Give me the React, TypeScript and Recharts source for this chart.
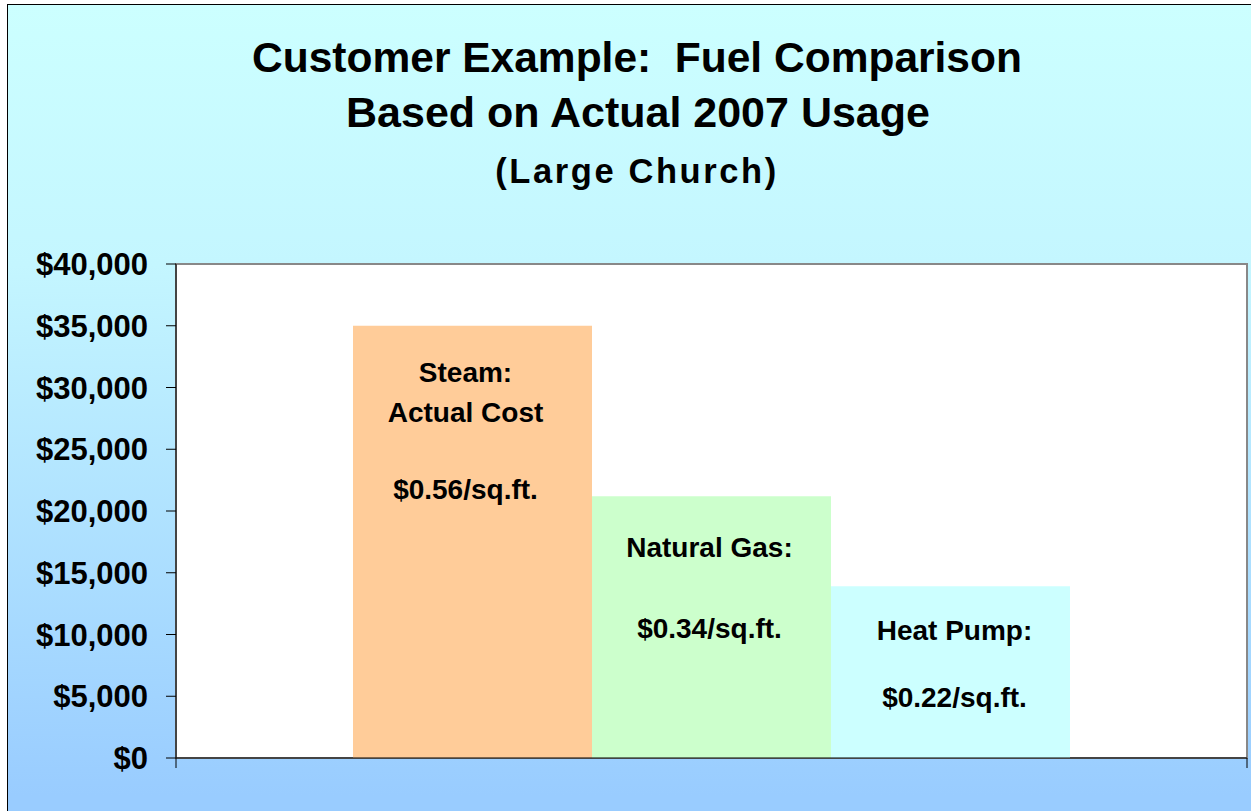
import React from "react";
import {
    BarChart, Bar, XAxis, YAxis, CartesianGrid, LabelList, ReferenceArea,
} from "recharts";

const categories = ["2007"];
const seriesKeys = ["steam", "gas", "heat"];
const seriesNames = ["Steam", "Natural Gas", "Heat Pump"];
const annualCost = [35000, 21200, 13900];
const labelHeads = [["Steam:", "Actual Cost"], ["Natural Gas:"], ["Heat Pump:"]];
const costPerSqFt = ["$0.56/sq.ft.", "$0.34/sq.ft.", "$0.22/sq.ft."];
const yTicks = [0, 5000, 10000, 15000, 20000, 25000, 30000, 35000, 40000];
const titleLines = ["Customer Example:  Fuel Comparison", "Based on Actual 2007 Usage", "(Large Church)"];

const barColors = ["#FFCC99", "#CCFFCC", "#CCFFFF"];
// label placement inside each bar (offsets from the bar's top / centre)
const labelFirstBaseline = [56, 61, 54];
const labelPriceGap = [117, 81, 67];
const labelShift = [-7, -2, 4];

const FONT = '"Liberation Sans", Arial, Helvetica, sans-serif';

const data = categories.map((name) => {
    const row: any = { name };
    seriesKeys.forEach((k, i) => { row[k] = annualCost[i]; });
    return row;
});

const money = (v: number) => "$" + v.toLocaleString("en-US");

const makeLabel = (i: number) => (props: any) => {
    const vb = props.viewBox || props;
    const cx = Number(vb.x) + Number(vb.width) / 2 + labelShift[i];
    const top = Number(vb.y) + labelFirstBaseline[i];
    const style = { fontFamily: FONT, fontSize: 28, fontWeight: 700, fill: "#000" };
    return (
        <g>
            {labelHeads[i].map((t, k) => (
                <text key={k} x={cx} y={top + k * 40} textAnchor="middle" style={style}>{t}</text>
            ))}
            <text x={cx} y={top + labelPriceGap[i]} textAnchor="middle" style={style}>{costPerSqFt[i]}</text>
        </g>
    );
};

const BoundaryTick = (props: any) => {
    const { x, y, payload } = props;
    const half = payload && payload.offset ? payload.offset : 0;
    if (!half) return null;
    return (
        <g>
            <line x1={x - half} x2={x - half} y1={y - 10} y2={y} stroke="#000" />
            <line x1={x + half} x2={x + half} y1={y - 10} y2={y} stroke="#000" />
        </g>
    );
};

export default function App() {
    return (
        <div style={{ position: "absolute", left: 0, top: 0, width: 1251, height: 811, overflow: "hidden" }}>
            <div
                style={{
                    position: "absolute", left: 7, top: 4, width: 1300, height: 860,
                    border: "1px solid #000",
                    background: "linear-gradient(to bottom, #CCFFFF 0px, #C4F6FF 260px, #99CCFF 790px)",
                }}
            />
            <svg width={1251} height={240} style={{ position: "absolute", left: 0, top: 0 }}>
                <text x={637} y={72} textAnchor="middle" style={{ fontFamily: FONT, fontSize: 42.5, fontWeight: 700, whiteSpace: "pre" }}>{titleLines[0]}</text>
                <text x={638} y={127} textAnchor="middle" style={{ fontFamily: FONT, fontSize: 43, fontWeight: 700 }}>{titleLines[1]}</text>
                <text x={637} y={183} textAnchor="middle" style={{ fontFamily: FONT, fontSize: 34.5, fontWeight: 700, letterSpacing: 2.6 }}>{titleLines[2]}</text>
            </svg>
            <div style={{ position: "absolute", left: 0, top: 0 }}>
                <BarChart
                    width={1251}
                    height={811}
                    data={data}
                    margin={{ top: 264, right: 4, bottom: 0, left: 0 }}
                    barGap={0}
                    barCategoryGap={177}
                >
                    <CartesianGrid horizontal={false} vertical={false} fill="#FFFFFF" />
                    <ReferenceArea
                        x1={categories[0]}
                        x2={categories[categories.length - 1]}
                        y1={0}
                        y2={40000}
                        fill="none"
                        stroke="#888"
                        strokeWidth={2}
                        ifOverflow="visible"
                    />
                    <XAxis
                        dataKey="name"
                        height={53}
                        axisLine={{ stroke: "#000" }}
                        tickLine={false}
                        tickSize={10}
                        tickMargin={0}
                        tick={<BoundaryTick />}
                    />
                    <YAxis
                        width={176}
                        domain={[0, 40000]}
                        ticks={yTicks}
                        interval={0}
                        tickFormatter={money}
                        tickSize={10}
                        tickMargin={18}
                        axisLine={{ stroke: "#000" }}
                        tickLine={{ stroke: "#000" }}
                        tick={{ fill: "#000", fontSize: 31, fontWeight: 700, fontFamily: FONT }}
                    />
                    {seriesKeys.map((k, i) => (
                        <Bar key={k} dataKey={k} name={seriesNames[i]} fill={barColors[i]} isAnimationActive={false}>
                            <LabelList dataKey={k} content={makeLabel(i)} />
                        </Bar>
                    ))}
                </BarChart>
            </div>
        </div>
    );
}
